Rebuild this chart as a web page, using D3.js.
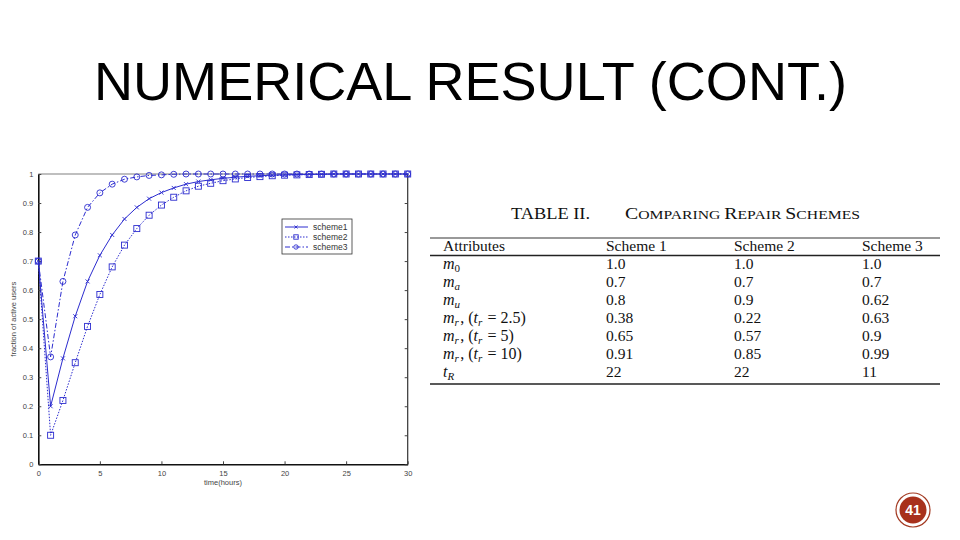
<!DOCTYPE html>
<html>
<head>
<meta charset="utf-8">
<script src="https://cdn.jsdelivr.net/npm/d3@7"></script>
<style>
  body { margin: 0; background: #fff; }
  svg { display: block; }
</style>
</head>
<body>
<div id="slide"></div>
<script>
// data
var times = [0,1,2,3,4,5,6,7,8,9,10,11,12,13,14,15,16,17,18,19,20,21,22,23,24,25,26,27,28,29,30];
var scheme1 = [0.7,0.2,0.365,0.51,0.63,0.72,0.79,0.845,0.885,0.915,0.936,0.952,0.965,0.974,0.98,0.985,0.989,0.992,0.994,0.996,0.997,0.998,0.999,0.999,1,1,1,1,1,1,1];
var scheme2 = [0.7,0.1,0.22,0.35,0.475,0.585,0.68,0.755,0.812,0.858,0.893,0.92,0.942,0.958,0.968,0.977,0.983,0.988,0.991,0.994,0.996,0.997,0.998,0.999,1,1,1,1,1,1,1];
var scheme3 = [0.7,0.37,0.63,0.79,0.885,0.935,0.965,0.982,0.99,0.995,0.997,0.999,1,1,1,1,1,1,1,1,1,1,1,1,1,1,1,1,1,1,1];
var seriesNames = ["scheme1", "scheme2", "scheme3"];
var xTicks = [0,5,10,15,20,25,30];
var yTicks = [0,0.1,0.2,0.3,0.4,0.5,0.6,0.7,0.8,0.9,1];

var tableHeader = ["Attributes", "Scheme 1", "Scheme 2", "Scheme 3"];
var tableAttrs = ["m0", "ma", "mu", "mr25", "mr5", "mr10", "tR"];
var tableS1 = ["1.0", "0.7", "0.8", "0.38", "0.65", "0.91", "22"];
var tableS2 = ["1.0", "0.7", "0.9", "0.22", "0.57", "0.85", "22"];
var tableS3 = ["1.0", "0.7", "0.62", "0.63", "0.9", "0.99", "11"];

var W = 960, H = 540;
var svg = d3.select("#slide").append("svg").attr("width", W).attr("height", H);

// title
svg.append("text")
    .attr("x", 94).attr("y", 100)
    .attr("textLength", 753).attr("lengthAdjust", "spacingAndGlyphs")
    .style("font-family", "'Liberation Sans', Arial, sans-serif")
    .style("font-size", "53px")
    .attr("fill", "#000")
    .text("NUMERICAL RESULT (CONT.)");

// ---- line chart ----
var x = d3.scaleLinear().domain([0, 30]).range([38.3, 407.7]);
var y = d3.scaleLinear().domain([0, 1]).range([464.3, 174]);
var blue = "#2c2ccf";
var tickFont = "'Liberation Sans', Arial, sans-serif";

// box
svg.append("line").attr("x1", x(0)).attr("x2", x(30)).attr("y1", y(1)).attr("y2", y(1))
    .attr("stroke", "#aaa").attr("stroke-width", 1.5);
svg.append("line").attr("x1", x(30)).attr("x2", x(30)).attr("y1", y(1)).attr("y2", y(0))
    .attr("stroke", "#333").attr("stroke-width", 1.2);

var xAxis = svg.append("g").attr("transform", "translate(0," + y(0) + ")")
    .call(d3.axisBottom(x).tickValues(xTicks).tickSizeInner(-3).tickSizeOuter(0).tickPadding(6));
var yAxis = svg.append("g").attr("transform", "translate(" + x(0) + ",0)")
    .call(d3.axisLeft(y).tickValues(yTicks).tickSizeInner(-3).tickSizeOuter(0).tickPadding(5)
        .tickFormat(function(d) { return d === 0 || d === 1 ? d3.format("d")(d) : d3.format(".1f")(d); }));
[xAxis, yAxis].forEach(function(g) {
    g.select(".domain").attr("stroke", "#111").attr("stroke-width", 1.6);
    g.selectAll(".tick line").attr("stroke", "#444");
    g.selectAll(".tick text").attr("fill", "#444")
        .style("font-family", tickFont).style("font-size", "7.5px");
});
// right-side ticks like matlab
svg.append("g").attr("transform", "translate(" + x(30) + ",0)")
    .call(d3.axisRight(y).tickValues(yTicks).tickSizeInner(-3).tickSizeOuter(0).tickFormat(""))
    .call(function(g) { g.select(".domain").remove(); g.selectAll("line").attr("stroke", "#444"); });

svg.append("text")
    .attr("x", d3.mean([x(0), x(30)])).attr("y", 485)
    .attr("text-anchor", "middle")
    .style("font-family", tickFont).style("font-size", "7.5px").attr("fill", "#444")
    .text("time(hours)");
svg.append("text")
    .attr("transform", "translate(16," + y(0.5) + ") rotate(-90)")
    .attr("text-anchor", "middle")
    .style("font-family", tickFont).style("font-size", "7.5px").attr("fill", "#444")
    .text("fraction of active users");

var series = [
    { name: "scheme1", values: scheme1, dash: null, marker: "x" },
    { name: "scheme2", values: scheme2, dash: "1.5,1.5", marker: "square" },
    { name: "scheme3", values: scheme3, dash: "5,2,1.5,2", marker: "circle" }
];

var line = d3.line()
    .x(function(d) { return x(d.t); })
    .y(function(d) { return y(d.v); });

function drawMarker(g, type, cx, cy, r) {
    if (type === "x") {
        g.append("path").attr("d", "M" + (cx - r) + "," + (cy - r) + "L" + (cx + r) + "," + (cy + r) +
            "M" + (cx - r) + "," + (cy + r) + "L" + (cx + r) + "," + (cy - r))
            .attr("stroke", blue).attr("stroke-width", 0.9).attr("fill", "none");
    } else if (type === "square") {
        g.append("rect").attr("x", cx - r).attr("y", cy - r).attr("width", 2 * r).attr("height", 2 * r)
            .attr("stroke", blue).attr("stroke-width", 0.9).attr("fill", "none");
    } else {
        g.append("circle").attr("cx", cx).attr("cy", cy).attr("r", r)
            .attr("stroke", blue).attr("stroke-width", 0.9).attr("fill", "none");
    }
}

series.forEach(function(s) {
    var pts = times.map(function(t, i) { return { t: t, v: s.values[i] }; });
    svg.append("path")
        .attr("d", line(pts))
        .attr("fill", "none")
        .attr("stroke", blue)
        .attr("stroke-width", 1)
        .attr("stroke-dasharray", s.dash);
    var mg = svg.append("g");
    pts.forEach(function(p) {
        drawMarker(mg, s.marker, x(p.t), y(p.v), s.marker === "x" ? 2 : 3);
    });
});

// legend
var lg = svg.append("g").attr("transform", "translate(282,219)");
lg.append("rect").attr("width", 70).attr("height", 35)
    .attr("fill", "#fff").attr("stroke", "#333").attr("stroke-width", 0.8);
series.forEach(function(s, i) {
    var ly = 8 + i * 10;
    lg.append("line").attr("x1", 3).attr("x2", 26).attr("y1", ly).attr("y2", ly)
        .attr("stroke", blue).attr("stroke-width", 1).attr("stroke-dasharray", s.dash);
    drawMarker(lg, s.marker, 14, ly, s.marker === "x" ? 1.5 : 2.2);
    lg.append("text").attr("x", 31).attr("y", ly + 2.8)
        .style("font-family", tickFont).style("font-size", "8.5px").attr("fill", "#333")
        .text(s.name);
});

// ---- table ----
var serif = "'Liberation Serif', 'Times New Roman', serif";
var tg = svg.append("g");
tg.append("text").attr("x", 511).attr("y", 219)
    .attr("textLength", 79).attr("lengthAdjust", "spacingAndGlyphs")
    .style("font-family", serif).style("font-size", "17px").attr("fill", "#111")
    .text("TABLE II.");
var capT = tg.append("text").attr("x", 625).attr("y", 219)
    .attr("textLength", 235).attr("lengthAdjust", "spacingAndGlyphs")
    .style("font-family", serif).attr("fill", "#111");
[["C", 17], ["OMPARING ", 13.5], ["R", 17], ["EPAIR ", 13.5], ["S", 17], ["CHEMES", 13.5]].forEach(function(p) {
    capT.append("tspan").style("font-size", p[1] + "px").text(p[0]);
});

tg.append("line").attr("x1", 430).attr("x2", 940).attr("y1", 238).attr("y2", 238)
    .attr("stroke", "#999").attr("stroke-width", 2);
tg.append("line").attr("x1", 430).attr("x2", 940).attr("y1", 255.5).attr("y2", 255.5)
    .attr("stroke", "#222").attr("stroke-width", 1.3);
tg.append("line").attr("x1", 430).attr("x2", 940).attr("y1", 384).attr("y2", 384)
    .attr("stroke", "#222").attr("stroke-width", 1.5);

var colPos = [443, 606, 734, 862];
var rowY = d3.scaleBand().domain(tableAttrs).range([255, 382]);

tableHeader.forEach(function(h, j) {
    tg.append("text").attr("x", colPos[j]).attr("y", 251)
        .style("font-family", serif).style("font-size", "15.5px").attr("fill", "#111").text(h);
});

function mathLabel(g, key, x0, y0) {
    var t = g.append("text").attr("x", x0).attr("y", y0)
        .style("font-family", serif).style("font-size", "16px").attr("fill", "#111");
    function it(s) { t.append("tspan").style("font-style", "italic").text(s); }
    function sub(s, italic) {
        t.append("tspan").attr("dy", 3).style("font-size", "11px")
            .style("font-style", italic ? "italic" : "normal").text(s);
        t.append("tspan").attr("dy", -3).text("\u200a");
    }
    function rm(s) { t.append("tspan").text(s); }
    if (key === "m0") { it("m"); sub("0", false); }
    else if (key === "ma") { it("m"); sub("a", true); }
    else if (key === "mu") { it("m"); sub("u", true); }
    else if (key === "tR") { it("t"); sub("R", true); }
    else {
        var v = key === "mr25" ? "2.5" : key === "mr5" ? "5" : "10";
        it("m"); sub("r", true); rm(", ("); it("t"); sub("r", true); rm(" = " + v + ")");
    }
}

tableAttrs.forEach(function(a, i) {
    var by = rowY(a) + rowY.bandwidth() / 2 + 4.5;
    mathLabel(tg, a, colPos[0], by);
    [tableS1, tableS2, tableS3].forEach(function(col, j) {
        tg.append("text").attr("x", colPos[j + 1]).attr("y", by)
            .style("font-family", serif).style("font-size", "15.5px").attr("fill", "#111").text(col[i]);
    });
});

// page number badge
var badge = svg.append("g").attr("transform", "translate(913,510)");
badge.append("circle").attr("r", 17).attr("fill", "none").attr("stroke", "#a33a22").attr("stroke-width", 1.2);
badge.append("circle").attr("r", 13.5).attr("fill", "#a8311c");
badge.append("text").attr("y", 5).attr("text-anchor", "middle")
    .style("font-family", "'Liberation Sans', Arial, sans-serif").style("font-size", "14px")
    .style("font-weight", "bold").attr("fill", "#fff").text("41");
</script>
</body>
</html>
